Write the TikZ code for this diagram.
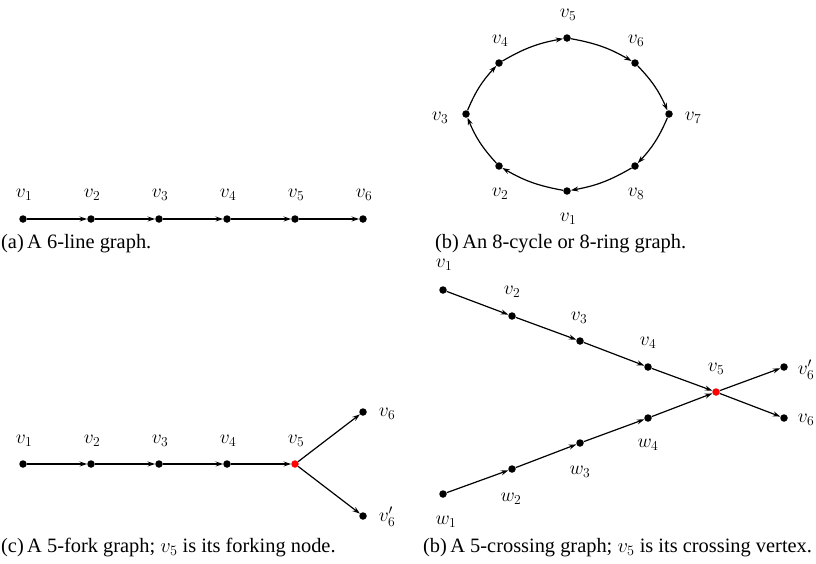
\RequirePackage{fix-cm}
\documentclass[tikz,border=0pt]{standalone}
\usepackage{fontspec}
\setmainfont{Liberation Serif}
\usetikzlibrary{arrows.meta}
\begin{document}
\begin{tikzpicture}[x=1pt,y=-1pt,
  vdot/.style={circle,fill=black,inner sep=0pt,minimum size=7.5pt},
  rdot/.style={vdot,fill=red},
  lbl/.style={inner sep=0pt,font=\fontsize{19.5}{23}\selectfont},
  captxt/.style={inner sep=0pt,anchor=base west,font=\fontsize{20.4}{24}\selectfont},
  arr/.style={line width=1.2pt,-{Stealth[length=7.5pt,width=5pt,inset=2.5pt]}},
  carr/.style={arr,bend left=10}]
\useasboundingbox (0,0) rectangle (816,563);

% (a) 6-line graph
\foreach \i/\x in {1/23,2/91,3/159,4/227,5/295,6/363}{
  \node[vdot] (a\i) at (\x,219) {};
  \node[lbl] (al\i) at (\x+1,195) {$v_{\i}$};
}
\foreach \i/\j in {1/2,2/3,3/4,4/5,5/6}{\draw[arr] (a\i) -- (a\j);}
\node[captxt] (capa) at (1,248) {(a)\,A 6-line graph.};

% (b) 8-cycle
\node[vdot] (b1) at (567,191) {};
\node[vdot] (b2) at (499,166) {};
\node[vdot] (b3) at (466,114) {};
\node[vdot] (b4) at (499,63) {};
\node[vdot] (b5) at (567,38) {};
\node[vdot] (b6) at (635,63) {};
\node[vdot] (b7) at (669,114) {};
\node[vdot] (b8) at (635,166) {};
\node[lbl] (bl1) at (568,218.5) {$v_1$};
\node[lbl] (bl2) at (500,193.5) {$v_2$};
\node[lbl] (bl3) at (440,117.5) {$v_3$};
\node[lbl] (bl4) at (500,40.5) {$v_4$};
\node[lbl] (bl5) at (568,14.5) {$v_5$};
\node[lbl] (bl6) at (636,40.5) {$v_6$};
\node[lbl] (bl7) at (693,117.5) {$v_7$};
\node[lbl] (bl8) at (636,193.5) {$v_8$};
\foreach \i/\j in {1/2,2/3,3/4,4/5,5/6,6/7,7/8,8/1}{\draw[carr] (b\i) to (b\j);}
\node[captxt] (capb) at (435,248) {(b)\,An 8-cycle or 8-ring graph.};

% (c) 5-fork graph
\foreach \i/\x in {1/23,2/91,3/159,4/227}{
  \node[vdot] (c\i) at (\x,464) {};
  \node[lbl] (cl\i) at (\x+1,441) {$v_{\i}$};
}
\node[rdot] (c5) at (295,464) {};
\node[lbl] (cl5) at (296,441) {$v_5$};
\node[vdot] (c6) at (363,412) {};
\node[lbl] (cl6) at (387,414) {$v_6$};
\node[vdot] (c6p) at (363,516) {};
\node[lbl] (cl6p) at (387,517) {$v_6'$};
\foreach \i/\j in {1/2,2/3,3/4,4/5,5/6,5/6p}{\draw[arr] (c\i) -- (c\j);}
\node[captxt] (capc) at (1,552) {(c)\,A 5-fork graph; $v_5$ is its forking node.};

% (d) 5-crossing graph
\node[vdot] (d1) at (443,290) {};
\node[vdot] (d2) at (512,316) {};
\node[vdot] (d3) at (580,341) {};
\node[vdot] (d4) at (648,367) {};
\node[rdot] (d5) at (716,392) {};
\node[vdot] (d6p) at (784,367) {};
\node[vdot] (d6) at (784,418) {};
\node[vdot] (e1) at (443,494) {};
\node[vdot] (e2) at (512,469) {};
\node[vdot] (e3) at (580,443) {};
\node[vdot] (e4) at (648,418) {};
\node[lbl] (dl1) at (444,264.5) {$v_1$};
\node[lbl] (dl2) at (512,291.5) {$v_2$};
\node[lbl] (dl3) at (579,317.5) {$v_3$};
\node[lbl] (dl4) at (648,342.5) {$v_4$};
\node[lbl] (dl5) at (716,368.5) {$v_5$};
\node[lbl] (dl6p) at (806,370) {$v_6'$};
\node[lbl] (dl6) at (806,419.5) {$v_6$};
\node[lbl] (el4) at (648,444.5) {$w_4$};
\node[lbl] (el3) at (580,471.5) {$w_3$};
\node[lbl] (el2) at (511,498.5) {$w_2$};
\node[lbl] (el1) at (446,521.5) {$w_1$};
\foreach \i/\j in {1/2,2/3,3/4,4/5,5/6p,5/6}{\draw[arr] (d\i) -- (d\j);}
\foreach \i/\j in {1/2,2/3,3/4}{\draw[arr] (e\i) -- (e\j);}
\draw[arr] (e4) -- (d5);
\node[captxt] (capd) at (423,552) {(b)\,A 5-crossing graph; $v_5$ is its crossing vertex.};
\end{tikzpicture}
\end{document}
